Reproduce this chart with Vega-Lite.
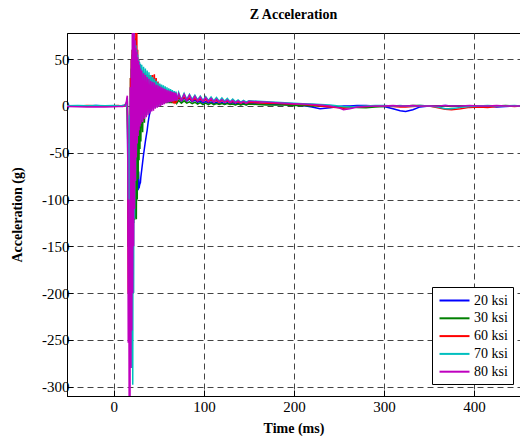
{
  "$schema": "https://vega.github.io/schema/vega-lite/v6.json",
  "width": 453,
  "height": 363,
  "autosize": {"type": "none"},
  "padding": {"left": 67, "top": 33, "right": 0, "bottom": 40},
  "background": "white",
  "title": {"text": "Z Acceleration", "font": "Times New Roman", "fontSize": 14, "fontWeight": "bold", "anchor": "middle", "offset": 11, "color": "black"},
  "config": {"view": {"stroke": "black", "strokeWidth": 1}},
  "data": {"values": [
    {"t": -52, "k20": 0.3, "k30": -0.2, "k60": 0.5, "k70": 0.2, "k80": -0.5},
    {"t": -40, "k20": 0.2, "k30": 0.3, "k60": -0.3, "k70": 0.5, "k80": -0.8},
    {"t": -30, "k20": -0.3, "k30": 0.1, "k60": 0.4, "k70": 0.2, "k80": -1},
    {"t": -20, "k20": 0.4, "k30": -0.2, "k60": 0.2, "k70": 0.6, "k80": -0.7},
    {"t": -10, "k20": 0.1, "k30": 0.3, "k60": -0.4, "k70": 0.3, "k80": -1},
    {"t": 0, "k20": -0.2, "k30": 0.1, "k60": 0.3, "k70": 0.5, "k80": -0.8},
    {"t": 5, "k20": 0.3, "k30": -0.3, "k60": 0.5, "k70": 0.2, "k80": -0.6},
    {"t": 10, "k20": 0.2, "k30": 0.4, "k60": -0.2, "k70": 0.6, "k80": -0.5},
    {"t": 12, "k20": 0.5, "k30": 0.2, "k60": 0.3, "k70": 1, "k80": 0},
    {"t": 13, "k20": 1, "k30": 0.5, "k60": 1, "k70": 2, "k80": 2},
    {"t": 14, "k20": 0, "k30": 0, "k60": 0, "k70": 0, "k80": 5},
    {"t": 14.5, "k20": 5, "k30": 3, "k60": 4, "k70": 6, "k80": 9},
    {"t": 15, "k20": -10, "k30": -5, "k60": 5, "k70": 8, "k80": 11},
    {"t": 15.5, "k20": -60, "k30": -40, "k60": -30, "k70": -20, "k80": -60},
    {"t": 16, "k20": -150, "k30": -120, "k60": -200, "k70": -100, "k80": -253},
    {"t": 16.5, "k20": -90, "k30": -60, "k60": -60, "k70": -40, "k80": -100},
    {"t": 17, "k20": -200, "k30": -180, "k60": -226, "k70": -200, "k80": -315},
    {"t": 17.5, "k20": -60, "k30": -30, "k60": -20, "k70": -10, "k80": -150},
    {"t": 18, "k20": -180, "k30": -160, "k60": -180, "k70": -230, "k80": -315},
    {"t": 18.5, "k20": 20, "k30": 30, "k60": 30, "k70": 10, "k80": 20},
    {"t": 19, "k20": -160, "k30": -150, "k60": -150, "k70": -260, "k80": -280},
    {"t": 19.5, "k20": 40, "k30": 50, "k60": 50, "k70": 20, "k80": 50},
    {"t": 20, "k20": -140, "k30": -140, "k60": -120, "k70": -280, "k80": -240},
    {"t": 20.5, "k20": 55, "k30": 60, "k60": 60, "k70": 40, "k80": 85},
    {"t": 21, "k20": -130, "k30": -130, "k60": -100, "k70": -298, "k80": -200},
    {"t": 21.5, "k20": 40, "k30": 55, "k60": 65, "k70": 85, "k80": 85},
    {"t": 22, "k20": -120, "k30": -125, "k60": -80, "k70": -200, "k80": -150},
    {"t": 22.5, "k20": 30, "k30": 45, "k60": 70, "k70": 85, "k80": 85},
    {"t": 23, "k20": -110, "k30": -122, "k60": -60, "k70": -120, "k80": -110},
    {"t": 23.5, "k20": 15, "k30": 35, "k60": 72, "k70": 70, "k80": 70},
    {"t": 24, "k20": -100, "k30": -120, "k60": -50, "k70": -80, "k80": -80},
    {"t": 24.5, "k20": 0, "k30": 25, "k60": 85, "k70": 65, "k80": 62},
    {"t": 25, "k20": -95, "k30": -121, "k60": -40, "k70": -50, "k80": -55},
    {"t": 25.5, "k20": -20, "k30": 10, "k60": 85, "k70": 60, "k80": 58},
    {"t": 26, "k20": -92, "k30": -100, "k60": -30, "k70": -35, "k80": -40},
    {"t": 26.5, "k20": -50, "k30": 0, "k60": 60, "k70": 55, "k80": 52},
    {"t": 27, "k20": -90, "k30": -78, "k60": -25, "k70": -25, "k80": -32},
    {"t": 27.5, "k20": -70, "k30": 5, "k60": 50, "k70": 50, "k80": 48},
    {"t": 28, "k20": -88, "k30": -58, "k60": -20, "k70": -21, "k80": -26},
    {"t": 28.5, "k20": -85, "k30": 15, "k60": 45, "k70": 47, "k80": 44},
    {"t": 29, "k20": -83, "k30": -46, "k60": -15, "k70": -18, "k80": -22},
    {"t": 29.5, "k20": -82, "k30": 22, "k60": 40, "k70": 45, "k80": 40},
    {"t": 30, "k20": -76, "k30": -38, "k60": -12, "k70": -15, "k80": -19},
    {"t": 31, "k20": -68, "k30": 30, "k60": 38, "k70": 44, "k80": 38},
    {"t": 32, "k20": -60, "k30": -28, "k60": -10, "k70": -13, "k80": -17},
    {"t": 33, "k20": -52, "k30": 34, "k60": 36, "k70": 42, "k80": 35},
    {"t": 34, "k20": -45, "k30": -18, "k60": -8, "k70": -11, "k80": -14},
    {"t": 35, "k20": -38, "k30": 36, "k60": 35, "k70": 40, "k80": 33},
    {"t": 36, "k20": -32, "k30": -10, "k60": -6, "k70": -9, "k80": -12},
    {"t": 37, "k20": -26, "k30": 33, "k60": 34, "k70": 38, "k80": 31},
    {"t": 38, "k20": -18, "k30": -6, "k60": -5, "k70": -8, "k80": -10},
    {"t": 39, "k20": -12, "k30": 30, "k60": 33, "k70": 36, "k80": 29},
    {"t": 40, "k20": -7, "k30": -4, "k60": -4, "k70": -6, "k80": -8},
    {"t": 41, "k20": -3, "k30": 27, "k60": 33, "k70": 33, "k80": 27},
    {"t": 42, "k20": 1, "k30": -2, "k60": -3, "k70": -4, "k80": -6},
    {"t": 43, "k20": 6, "k30": 25, "k60": 33, "k70": 31, "k80": 26},
    {"t": 44, "k20": 3, "k30": -1, "k60": -2, "k70": -3, "k80": -5},
    {"t": 45, "k20": 12, "k30": 23, "k60": 34, "k70": 29, "k80": 25},
    {"t": 46, "k20": 4, "k30": 0, "k60": 0, "k70": -2, "k80": -3},
    {"t": 47, "k20": 14, "k30": 21, "k60": 30, "k70": 27, "k80": 23},
    {"t": 48, "k20": 5, "k30": 1, "k60": 1, "k70": -1, "k80": -2},
    {"t": 49, "k20": 15, "k30": 19, "k60": 26, "k70": 25, "k80": 22},
    {"t": 50, "k20": 6, "k30": 2, "k60": 2, "k70": 0, "k80": -1},
    {"t": 51, "k20": 15, "k30": 17, "k60": 23, "k70": 24, "k80": 21},
    {"t": 52, "k20": 6, "k30": 2, "k60": 3, "k70": 1, "k80": 0},
    {"t": 53, "k20": 14, "k30": 15, "k60": 21, "k70": 23, "k80": 20},
    {"t": 54, "k20": 6, "k30": 3, "k60": 3, "k70": 2, "k80": 1},
    {"t": 55, "k20": 14, "k30": 13, "k60": 20, "k70": 22, "k80": 19},
    {"t": 56, "k20": 6, "k30": 3, "k60": 4, "k70": 3, "k80": 2},
    {"t": 57, "k20": 13, "k30": 12, "k60": 18, "k70": 21, "k80": 18},
    {"t": 58, "k20": 6, "k30": 3, "k60": 4, "k70": 4, "k80": 3},
    {"t": 59, "k20": 12, "k30": 11, "k60": 17, "k70": 20, "k80": 17},
    {"t": 60, "k20": 6, "k30": 3, "k60": 5, "k70": 4, "k80": 3.5},
    {"t": 61, "k20": 12, "k30": 10, "k60": 16, "k70": 19, "k80": 16.5},
    {"t": 62, "k20": 6, "k30": 3, "k60": 5, "k70": 5, "k80": 4},
    {"t": 63, "k20": 11, "k30": 9, "k60": 15, "k70": 18, "k80": 16},
    {"t": 64, "k20": 6, "k30": 3, "k60": 4, "k70": 5, "k80": 4.5},
    {"t": 65, "k20": 11, "k30": 9, "k60": 12, "k70": 17, "k80": 15},
    {"t": 66, "k20": 6, "k30": 3, "k60": 3, "k70": 5, "k80": 5},
    {"t": 67, "k20": 10, "k30": 8, "k60": 6, "k70": 16, "k80": 14.5},
    {"t": 68, "k20": 6, "k30": 3, "k60": 3, "k70": 6, "k80": 5.5},
    {"t": 69, "k20": 10, "k30": 8, "k60": 4, "k70": 15.5, "k80": 14},
    {"t": 70, "k20": 6, "k30": 3, "k60": 5, "k70": 6, "k80": 6},
    {"t": 72, "k20": 9, "k30": 6, "k60": 10, "k70": 14.5, "k80": 13},
    {"t": 75, "k20": 5, "k30": 3, "k60": 6, "k70": 6.5, "k80": 6},
    {"t": 78, "k20": 8.5, "k30": 5.5, "k60": 9.5, "k70": 13.5, "k80": 12.5},
    {"t": 81, "k20": 5, "k30": 3, "k60": 6, "k70": 7, "k80": 6},
    {"t": 84, "k20": 7.5, "k30": 4.5, "k60": 8.5, "k70": 12.5, "k80": 11.5},
    {"t": 87, "k20": 4.5, "k30": 2.5, "k60": 5.5, "k70": 7, "k80": 5.5},
    {"t": 90, "k20": 6.5, "k30": 4, "k60": 8, "k70": 11.5, "k80": 10.5},
    {"t": 93, "k20": 4, "k30": 2, "k60": 5, "k70": 6.5, "k80": 5.5},
    {"t": 96, "k20": 5.5, "k30": 3.5, "k60": 7.5, "k70": 10.5, "k80": 9.5},
    {"t": 99, "k20": 3, "k30": 1.5, "k60": 5, "k70": 6, "k80": 5},
    {"t": 102, "k20": 5, "k30": 3, "k60": 7, "k70": 10, "k80": 9},
    {"t": 105, "k20": 3, "k30": 1.5, "k60": 4.5, "k70": 6, "k80": 5},
    {"t": 108, "k20": 4.5, "k30": 3, "k60": 6.5, "k70": 9.5, "k80": 8},
    {"t": 111, "k20": 2.5, "k30": 1.5, "k60": 4.5, "k70": 5.5, "k80": 4.5},
    {"t": 114, "k20": 4, "k30": 2.5, "k60": 6, "k70": 9, "k80": 7.5},
    {"t": 117, "k20": 2, "k30": 1.5, "k60": 4, "k70": 5, "k80": 4.5},
    {"t": 120, "k20": 4, "k30": 2.5, "k60": 6, "k70": 8.5, "k80": 7},
    {"t": 123, "k20": 2, "k30": 1.5, "k60": 4, "k70": 5, "k80": 4},
    {"t": 126, "k20": 3.5, "k30": 2.5, "k60": 5.5, "k70": 8, "k80": 6.5},
    {"t": 129, "k20": 2, "k30": 1.5, "k60": 3.5, "k70": 4.5, "k80": 4},
    {"t": 132, "k20": 3.5, "k30": 2, "k60": 5, "k70": 7.5, "k80": 6},
    {"t": 135, "k20": 2, "k30": 1, "k60": 3.5, "k70": 4.5, "k80": 3.5},
    {"t": 138, "k20": 3, "k30": 2, "k60": 4.5, "k70": 6.5, "k80": 5.5},
    {"t": 141, "k20": 1.5, "k30": 1, "k60": 3, "k70": 4, "k80": 3.5},
    {"t": 144, "k20": 3, "k30": 2, "k60": 4.5, "k70": 6, "k80": 5},
    {"t": 147, "k20": 1.5, "k30": 1, "k60": 3, "k70": 4, "k80": 3},
    {"t": 150, "k20": 3, "k30": 2, "k60": 4, "k70": 5.5, "k80": 5},
    {"t": 160, "k20": 2, "k30": 1.5, "k60": 3.5, "k70": 5, "k80": 4.5},
    {"t": 170, "k20": 2, "k30": 1, "k60": 3, "k70": 4.5, "k80": 4},
    {"t": 180, "k20": 1.5, "k30": 1, "k60": 3, "k70": 4, "k80": 3.5},
    {"t": 190, "k20": 1.5, "k30": 1, "k60": 2.5, "k70": 3.5, "k80": 3},
    {"t": 200, "k20": 1, "k30": 0.5, "k60": 2, "k70": 3, "k80": 2.5},
    {"t": 210, "k20": 0.5, "k30": 0.5, "k60": 1.5, "k70": 2.5, "k80": 2},
    {"t": 220, "k20": -1, "k30": 0, "k60": 1, "k70": 2, "k80": 1.5},
    {"t": 229, "k20": -3, "k30": 0, "k60": 0, "k70": 1.5, "k80": 1},
    {"t": 240, "k20": -2, "k30": -0.5, "k60": -1, "k70": 1, "k80": 0},
    {"t": 250, "k20": -0.5, "k30": -1, "k60": -2, "k70": 0, "k80": -2},
    {"t": 255, "k20": 0, "k30": -1, "k60": -2.5, "k70": -0.5, "k80": -4},
    {"t": 262, "k20": 0, "k30": -1, "k60": -2, "k70": -1, "k80": -3},
    {"t": 270, "k20": 0.5, "k30": -1.5, "k60": -1, "k70": -0.5, "k80": -1},
    {"t": 280, "k20": 0.5, "k30": -2, "k60": -0.5, "k70": 0, "k80": -0.5},
    {"t": 290, "k20": 0, "k30": -1, "k60": 0, "k70": 0.5, "k80": 0},
    {"t": 300, "k20": -0.5, "k30": -0.5, "k60": 0, "k70": 0.5, "k80": 0},
    {"t": 310, "k20": -3, "k30": 0, "k60": -0.5, "k70": 0, "k80": 0.5},
    {"t": 318, "k20": -5, "k30": 0, "k60": -1, "k70": 0.5, "k80": 0},
    {"t": 324, "k20": -6, "k30": 0, "k60": -1, "k70": 0, "k80": 0},
    {"t": 332, "k20": -4, "k30": 0.5, "k60": -0.5, "k70": 0, "k80": 0.5},
    {"t": 340, "k20": -1, "k30": 0.5, "k60": 0, "k70": 0.5, "k80": 0},
    {"t": 350, "k20": 0, "k30": 0, "k60": 0, "k70": 0, "k80": 0},
    {"t": 360, "k20": 0, "k30": 0, "k60": -2, "k70": -1, "k80": 0},
    {"t": 368, "k20": 0.5, "k30": 0, "k60": -3.5, "k70": -3, "k80": 0.5},
    {"t": 375, "k20": 0, "k30": -0.5, "k60": -4, "k70": -3, "k80": 0},
    {"t": 385, "k20": 0, "k30": 0, "k60": -3, "k70": -1.5, "k80": 0},
    {"t": 395, "k20": -0.5, "k30": 0, "k60": -1.5, "k70": -0.5, "k80": 0.5},
    {"t": 405, "k20": 0, "k30": -0.5, "k60": -1, "k70": 0, "k80": 0},
    {"t": 415, "k20": 0, "k30": 0, "k60": -1.5, "k70": 0.5, "k80": 0},
    {"t": 425, "k20": -1, "k30": 0, "k60": -0.5, "k70": 0, "k80": 0.5},
    {"t": 435, "k20": -0.5, "k30": 0.5, "k60": 0, "k70": 0, "k80": 0},
    {"t": 445, "k20": 0, "k30": 0, "k60": -0.5, "k70": 0.5, "k80": 0},
    {"t": 451, "k20": 0, "k30": 0, "k60": 0, "k70": 0, "k80": 0}
  ]},
  "transform": [{"fold": ["k20", "k30", "k60", "k70", "k80"], "as": ["series", "acc"]}],
  "mark": {"type": "line", "strokeWidth": 1.5, "clip": true},
  "encoding": {
    "x": {"field": "t", "type": "quantitative",
      "scale": {"domain": [-52, 451], "nice": false, "zero": false},
      "axis": {"values": [0, 100, 200, 300, 400], "grid": true, "gridDash": [6, 4], "gridColor": "#444",
        "tickSize": -6, "tickColor": "black", "domainColor": "black",
        "labelFont": "Times New Roman", "labelFontSize": 15, "labelColor": "black", "labelPadding": 9,
        "title": "Time (ms)", "titleFont": "Times New Roman", "titleFontSize": 14, "titleFontWeight": "bold", "titleColor": "black", "titlePadding": 7}},
    "y": {"field": "acc", "type": "quantitative",
      "scale": {"domain": [-310, 78], "nice": false, "zero": false},
      "axis": {"values": [-300, -250, -200, -150, -100, -50, 0, 50], "grid": true, "gridDash": [6, 4], "gridColor": "#444",
        "tickSize": -6, "tickColor": "black", "domainColor": "black",
        "labelExpr": "datum.value < 0 ? '-' + (-datum.value) : '' + datum.value",
        "labelFont": "Times New Roman", "labelFontSize": 15, "labelColor": "black", "labelPadding": 4,
        "title": "Acceleration (g)", "titleFont": "Times New Roman", "titleFontSize": 14, "titleFontWeight": "bold", "titleColor": "black", "titlePadding": 17}},
    "color": {"field": "series", "type": "nominal",
      "scale": {"domain": ["k20", "k30", "k60", "k70", "k80"], "range": ["#0000FF", "#008000", "#FF0000", "#00BFBF", "#BF00BF"]},
      "legend": {"orient": "none", "legendX": 365, "legendY": 254, "title": null,
        "symbolType": "M-2,0L2,0", "symbolSize": 225, "symbolStrokeWidth": 2, "symbolOffset": 9,
        "labelExpr": "replace(datum.label, 'k', '') + ' ksi'",
        "labelFont": "Times New Roman", "labelFontSize": 14, "labelColor": "black", "labelOffset": 11,
        "strokeColor": "black", "fillColor": "white", "padding": 5, "rowPadding": 1.8}}
  }
}
